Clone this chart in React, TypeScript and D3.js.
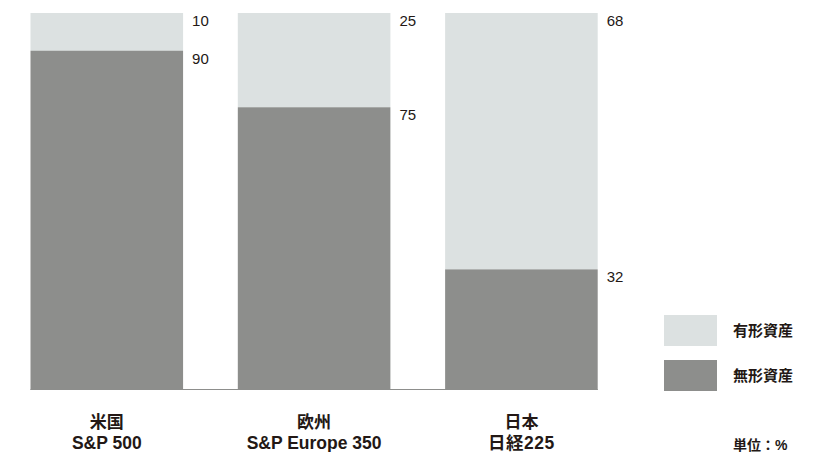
import * as d3 from "d3";

const w = 833;
const h = 452;

const regions = ["米国", "欧州", "日本"];
const indices = ["S&P 500", "S&P Europe 350", "日経225"];
const intangible = [90, 75, 32];
const tangible = [10, 25, 68];
const legendLabels = ["有形資産", "無形資産"];
const unitLabel = "単位：%";

const lightColor = "#dce1e1";
const darkColor = "#8d8e8c";
const textColor = "#231815";
const font = "'Liberation Sans', Arial, 'Noto Sans CJK JP', sans-serif";

const x = d3.scaleBand<string>().domain(regions).range([30.5, 597.7]).paddingInner(0.264).paddingOuter(0);
const y = d3.scaleLinear().domain([0, 100]).range([390, 13]);

function App() {
  const bw = x.bandwidth();
  return (
    <svg
      width={w}
      height={h}
      style={{ position: "absolute", left: 0, top: 0, background: "#fff" }}
      fontFamily={font}
    >
      {regions.map((r, i) => {
        const x0 = x(r) as number;
        const base = intangible[i];
        const total = base + tangible[i];
        return (
          <g key={r}>
            <rect x={x0} y={y(total)} width={bw} height={y(base) - y(total)} fill={lightColor} />
            <rect x={x0} y={y(base)} width={bw} height={y(0) - y(base)} fill={darkColor} />
            <text x={x0 + bw + 9} y={y(total) + 13} fontSize={15} fill={textColor}>
              {tangible[i]}
            </text>
            <text x={x0 + bw + 9} y={y(base) + 13} fontSize={15} fill={textColor}>
              {base}
            </text>
            <text
              x={x0 + bw / 2}
              y={428}
              textAnchor="middle"
              fontSize={17}
              fontWeight="bold"
              fill={textColor}
            >
              {r}
            </text>
            <text
              x={x0 + bw / 2}
              y={449}
              textAnchor="middle"
              fontSize={17.5}
              fontWeight="bold"
              fill={textColor}
              letterSpacing={i === 2 ? 0.5 : 0}
            >
              {indices[i]}
            </text>
          </g>
        );
      })}
      <rect x={x.range()[0]} y={y(0) - 1} width={x.range()[1] - x.range()[0]} height={1} fill={darkColor} />

      {legendLabels.map((l, i) => (
        <g key={l}>
          <rect x={664} y={315 + i * 45} width={53} height={31} fill={i === 0 ? lightColor : darkColor} />
          <text x={733} y={336 + i * 45} fontSize={15} fontWeight="bold" fill={textColor}>
            {l}
          </text>
        </g>
      ))}
      <text x={733} y={450} fontSize={14} fontWeight="bold" fill={textColor}>
        {unitLabel}
      </text>
    </svg>
  );
}

export default App;
